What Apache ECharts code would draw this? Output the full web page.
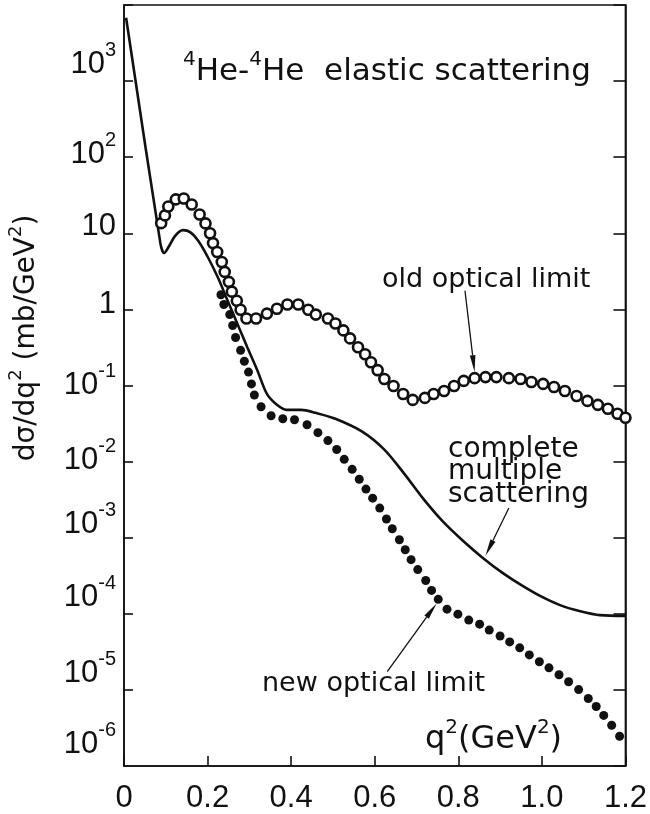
<!DOCTYPE html>
<html>
<head>
<meta charset="utf-8">
<script src="https://cdn.jsdelivr.net/npm/echarts@6/dist/echarts.min.js"></script>
<style>
  html, body { margin: 0; padding: 0; background: #fff; }
  #chart { width: 650px; height: 814px; }
</style>
</head>
<body>
<div id="chart"></div>
<script>
// ---- data: q^2 in GeV^2, dσ/dq^2 in mb/GeV^2 ----
// complete multiple scattering (solid curve)
const solidQ = [0.005, 0.087, 0.096, 0.108, 0.122, 0.141, 0.159, 0.178, 0.202, 0.225,
  0.248, 0.272, 0.295, 0.319, 0.342, 0.366, 0.389, 0.424, 0.459, 0.506,
  0.570, 0.623, 0.670, 0.717, 0.764, 0.811, 0.858, 0.905, 0.952, 0.998,
  1.045, 1.092, 1.139, 1.200];
const solidSigma = [6800, 7.43, 5.5, 6.8, 9.2, 11.0, 10.3, 7.9, 4.7, 2.6,
  1.30, 0.634, 0.318, 0.159, 0.0775, 0.0557, 0.0479, 0.0479, 0.0437, 0.0366,
  0.0248, 0.0144, 0.0070, 0.00321, 0.00161, 9.12e-4, 5.47e-4, 3.48e-4, 2.36e-4, 1.69e-4,
  1.29e-4, 1.08e-4, 9.6e-5, 9.4e-5];

// old optical limit (open circles)
const oldQ = [0.089, 0.098, 0.106, 0.124, 0.143, 0.162, 0.181, 0.195, 0.206, 0.213,
  0.223, 0.234, 0.241, 0.251, 0.258, 0.270, 0.279, 0.293, 0.316, 0.342,
  0.366, 0.391, 0.417, 0.441, 0.459, 0.488, 0.506, 0.525, 0.541, 0.560,
  0.577, 0.591, 0.607, 0.623, 0.645, 0.668, 0.691, 0.720, 0.741, 0.766,
  0.790, 0.813, 0.839, 0.865, 0.891, 0.921, 0.949, 0.975, 1.003, 1.029,
  1.055, 1.083, 1.109, 1.134, 1.158, 1.181, 1.200];
const oldSigma = [13.6, 17.2, 22.5, 27.9, 28.7, 23.9, 17.7, 13.5, 10.0, 7.43,
  5.67, 4.20, 3.11, 2.30, 1.71, 1.30, 0.99, 0.759, 0.759, 0.881,
  1.02, 1.16, 1.16, 0.99, 0.855, 0.759, 0.653, 0.530, 0.416, 0.318,
  0.258, 0.202, 0.159, 0.122, 0.0984, 0.0774, 0.0647, 0.0687, 0.0774, 0.0847,
  0.0984, 0.115, 0.125, 0.129, 0.129, 0.125, 0.122, 0.111, 0.105, 0.0955,
  0.0847, 0.0729, 0.0628, 0.0557, 0.0494, 0.0425, 0.0377];

// new optical limit (filled dots)
const newQ = [0.232, 0.239, 0.253, 0.260, 0.267, 0.279, 0.288, 0.298, 0.305, 0.312,
  0.328, 0.352, 0.380, 0.408, 0.438, 0.464, 0.488, 0.509, 0.527, 0.546,
  0.563, 0.579, 0.595, 0.612, 0.628, 0.642, 0.659, 0.673, 0.687, 0.703,
  0.722, 0.736, 0.752, 0.773, 0.799, 0.825, 0.851, 0.874, 0.900, 0.923,
  0.947, 0.970, 0.994, 1.017, 1.041, 1.064, 1.088, 1.111, 1.130, 1.148,
  1.167, 1.186];
const newSigma = [1.56, 1.16, 0.855, 0.615, 0.428, 0.290, 0.208, 0.150, 0.105, 0.0751,
  0.0525, 0.0400, 0.0366, 0.0355, 0.0305, 0.0240, 0.0189, 0.0144, 0.0107, 0.00791,
  0.00586, 0.00435, 0.00331, 0.00245, 0.00176, 0.00131, 9.4e-4, 6.95e-4, 5.15e-4, 3.81e-4,
  2.74e-4, 2.03e-4, 1.55e-4, 1.15e-4, 9.9e-5, 8.26e-5, 7.31e-5, 6.11e-5, 5.11e-5, 4.27e-5,
  3.57e-5, 2.88e-5, 2.34e-5, 1.95e-5, 1.58e-5, 1.28e-5, 1.01e-5, 7.71e-6, 6.05e-6, 4.62e-6,
  3.43e-6, 2.46e-6];

// tick labels
const xTickLabels = ['0', '0.2', '0.4', '0.6', '0.8', '1.0', '1.2'];
const yExponents = [-6, -5, -4, -3, -2, -1, 0, 1, 2, 3];

// ---- styling ----
const INK = '#111';
const TICK_FONT = '"Liberation Sans", Arial, sans-serif';
const TEXT_FONT = '"DejaVu Sans", sans-serif';

// hand-lettered decade labels sit a little above their ticks
const labelLift = { '3': 17, '2': 3, '1': 7, '0': 5, '-1': 0, '-2': 1, '-3': 13, '-4': 16, '-5': 16, '-6': 22 };

// exponent raised 14px above the mantissa; whole label lifted by k px
const yRich = {};
yExponents.forEach(e => {
  const k = labelLift[e] || 0;
  yRich['b' + (e + 6)] = { fontFamily: TICK_FONT, fontSize: 31, color: INK, lineHeight: 20, height: 2, padding: [0, 0, 2 * k, 0] };
  yRich['s' + (e + 6)] = { fontFamily: TICK_FONT, fontSize: 20, color: INK, lineHeight: 4, height: 2, padding: [0, 0, 28 + 2 * k, 0] };
});

function decadeLabel(e) {
  const i = e + 6;
  if (e === 0) return '{b' + i + '|1}';
  if (e === 1) return '{b' + i + '|10}';
  return '{b' + i + '|10}{s' + i + '|' + String(e) + '}';
}
const expOf = v => Math.round(Math.log10(v));
const lowest = yExponents[0];

// main axis prints every decade above the lowest one
function yLabel(v) {
  const e = expOf(v);
  if (yExponents.indexOf(e) < 0 || e === lowest) return '';
  return decadeLabel(e);
}
// companion axis prints only the lowest decade
function yLabelLowest(v) {
  return expOf(v) === lowest ? decadeLabel(lowest) : '';
}

const zip = (a, b) => a.map((v, i) => [v, b[i]]);

const chart = echarts.init(document.getElementById('chart'), null, { renderer: 'canvas' });

const logAxisBase = { type: 'log', logBase: 10, min: 1e-6, max: 1e4, interval: 1, splitLine: { show: false }, minorTick: { show: false } };

chart.setOption({
  animation: false,
  backgroundColor: '#fff',
  grid: { left: 124, right: 14, top: 5, bottom: 42, show: true, borderColor: INK, borderWidth: 1.6, backgroundColor: 'transparent' },
  xAxis: {
    type: 'value', min: 0, max: 1.2, interval: 0.2,
    axisLine: { lineStyle: { color: INK, width: 1.6 } },
    axisTick: { inside: true, length: 10, lineStyle: { color: INK, width: 1.6 } },
    axisLabel: {
      color: INK, fontFamily: TICK_FONT, fontSize: 31, margin: 17,
      showMinLabel: true, showMaxLabel: true,
      formatter: v => xTickLabels[Math.round(v / 0.2)]
    },
    splitLine: { show: false }
  },
  yAxis: [
    Object.assign({}, logAxisBase, {
      axisLine: { show: true, lineStyle: { color: INK, width: 1.6 } },
      axisTick: { inside: true, length: 9, lineStyle: { color: INK, width: 1.6 } },
      axisLabel: { margin: 8, formatter: yLabel, rich: yRich, showMinLabel: false }
    }),
    Object.assign({}, logAxisBase, {
      position: 'right',
      axisLine: { show: true, lineStyle: { color: INK, width: 1.6 } },
      axisTick: { inside: true, length: 12, lineStyle: { color: INK, width: 1.6 } },
      axisLabel: { show: false }
    }),
    Object.assign({}, logAxisBase, {
      position: 'left', offset: 0,
      axisLine: { show: false }, axisTick: { show: false },
      axisLabel: { margin: 8, formatter: yLabelLowest, rich: yRich, showMinLabel: true }
    })
  ],
  series: [
    {
      name: 'complete multiple scattering', type: 'line', yAxisIndex: 0,
      data: zip(solidQ, solidSigma), showSymbol: false, smooth: 0.3,
      lineStyle: { color: INK, width: 2.6 }, z: 3
    },
    {
      name: 'old optical limit', type: 'scatter', yAxisIndex: 0,
      data: zip(oldQ, oldSigma), symbol: 'circle', symbolSize: 10,
      itemStyle: { color: '#fff', borderColor: INK, borderWidth: 2.6, opacity: 1 }, z: 4
    },
    {
      name: 'new optical limit', type: 'scatter', yAxisIndex: 0,
      data: zip(newQ, newSigma), symbol: 'circle', symbolSize: 9,
      itemStyle: { color: INK, opacity: 1 }, z: 4
    }
  ]
});

// ---- annotations ----
// arrows point from the captions to the curves, given in data coordinates
const arrows = [
  { from: [0.816, 1.76], to: [0.839, 0.15] },
  { from: [0.921, 2.45e-3], to: [0.865, 5.8e-4] },
  { from: [0.630, 1.74e-5], to: [0.748, 1.37e-4] }
];

const toPx = p => chart.convertToPixel({ xAxisIndex: 0, yAxisIndex: 0 }, p);

const graphics = [];
arrows.forEach(a => {
  const p0 = toPx(a.from), p1 = toPx(a.to);
  const dx = p1[0] - p0[0], dy = p1[1] - p0[1];
  const len = Math.hypot(dx, dy), ux = dx / len, uy = dy / len;
  const headLen = 17, half = 2.8;
  const bx = p1[0] - ux * headLen, by = p1[1] - uy * headLen;
  graphics.push({
    type: 'line', z: 10,
    shape: { x1: p0[0], y1: p0[1], x2: bx, y2: by },
    style: { stroke: INK, lineWidth: 1.3 }
  });
  graphics.push({
    type: 'polygon', z: 10,
    shape: { points: [[p1[0], p1[1]], [bx - uy * half, by + ux * half], [bx + uy * half, by - ux * half]] },
    style: { fill: INK }
  });
});

const sup = { fontFamily: TEXT_FONT, fontSize: 20, fill: INK, lineHeight: 20, padding: [0, 0, 24, 0] };

function caption(text, x, y, size) {
  return {
    type: 'text', z: 10, x: x, y: y,
    style: { text: text, fontFamily: TEXT_FONT, fontSize: size, fill: INK, align: 'left', verticalAlign: 'middle' }
  };
}

graphics.push({
  type: 'text', z: 10, x: 183, y: 72,
  style: {
    text: '{s|4}{b|He-}{s|4}{b|He  elastic scattering}',
    align: 'left', verticalAlign: 'middle',
    rich: { b: { fontFamily: TEXT_FONT, fontSize: 31, fill: INK, lineHeight: 36 }, s: sup }
  }
});
graphics.push(caption('old optical limit', 382, 280, 27));
graphics.push(caption('complete', 448, 450, 28));
graphics.push(caption('multiple', 448, 472, 28));
graphics.push(caption('scattering', 448, 495, 28));
graphics.push(caption('new optical limit', 262, 684, 27));
graphics.push({
  type: 'text', z: 10, x: 425, y: 740,
  style: {
    text: '{b|q}{s|2}{b|(GeV}{s|2}{b|)}',
    align: 'left', verticalAlign: 'middle',
    rich: { b: { fontFamily: TEXT_FONT, fontSize: 32, fill: INK, lineHeight: 36 }, s: sup }
  }
});
graphics.push({
  type: 'text', z: 10, x: 27, y: 338, rotation: Math.PI / 2,
  style: {
    text: '{b|dσ/dq}{s|2}{b| (mb/GeV}{s|2}{b|)}',
    align: 'center', verticalAlign: 'middle',
    rich: {
      b: { fontFamily: TEXT_FONT, fontSize: 28, fill: INK, lineHeight: 32 },
      s: { fontFamily: TEXT_FONT, fontSize: 18, fill: INK, lineHeight: 18, padding: [0, 0, 22, 0] }
    }
  }
});

chart.setOption({ graphic: graphics });
</script>
</body>
</html>
